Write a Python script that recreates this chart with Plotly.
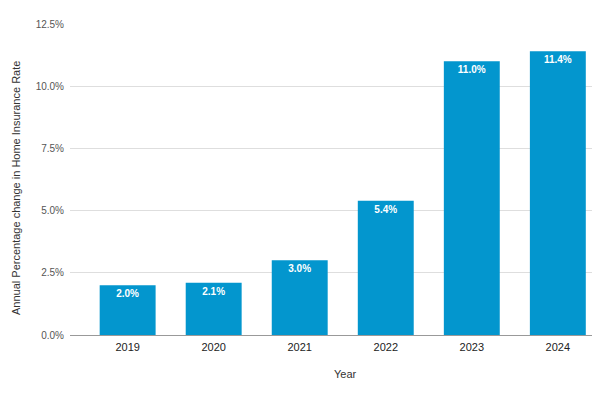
import plotly.graph_objects as go

years = ["2019", "2020", "2021", "2022", "2023", "2024"]
rates = [2.0, 2.1, 3.0, 5.4, 11.0, 11.4]
labels = ["2.0%", "2.1%", "3.0%", "5.4%", "11.0%", "11.4%"]
y_ticks = [0, 2.5, 5, 7.5, 10, 12.5]
y_tick_labels = ["0.0%", "2.5%", "5.0%", "7.5%", "10.0%", "12.5%"]

fig = go.Figure(go.Bar(
    x=years, y=rates, text=labels,
    textposition="inside", insidetextanchor="end",
    textfont=dict(family="Liberation Sans, Arial", size=10, color="white"),
    marker=dict(color="#0396CE", line=dict(width=0)),
))
fig.update_traces(texttemplate="<b>%{text}</b>")

fig.update_layout(
    width=600, height=400,
    margin=dict(l=62, r=8, t=16, b=73),
    paper_bgcolor="white", plot_bgcolor="white",
    bargap=0.35,
    showlegend=False,
    font=dict(family="Liberation Sans, Arial", color="#333"),
    xaxis=dict(
        type="category", range=[-0.67, 5.49], automargin=False,
        tickfont=dict(size=11, color="#222"), ticklabelstandoff=4,
        showgrid=False, showline=False, ticks="",
    ),
    yaxis=dict(
        range=[0, 12.5], tickvals=y_ticks, ticktext=y_tick_labels, automargin=False,
        tickfont=dict(size=10, color="#555"), ticklabelstandoff=5,
        showgrid=True, gridcolor="#dedede", gridwidth=1,
        zeroline=True, zerolinecolor="#999", zerolinewidth=1,
        ticks="", ticklen=0,
    ),
    annotations=[
        dict(text="Annual Percentage change in Home Insurance Rate", textangle=-90,
             xref="paper", yref="paper", x=(8 - 62) / 530, y=(327 - 180) / 311,
             xanchor="center", yanchor="middle", showarrow=False,
             font=dict(size=11, color="#333")),
        dict(text="Year", xref="paper", yref="paper",
             x=(337 - 62) / 530, y=(327 - 366) / 311,
             xanchor="center", yanchor="middle", showarrow=False,
             font=dict(size=11, color="#333")),
    ],
    uniformtext=dict(mode="show", minsize=8),
)

fig.write_html("out.html")
